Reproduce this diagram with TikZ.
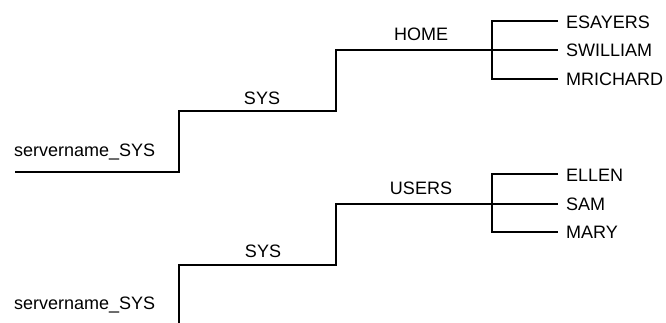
\documentclass[tikz,border=0pt]{standalone}
\usepackage{fontspec}
\setmainfont{Liberation Sans}
\begin{document}
\begin{tikzpicture}[x=1pt,y=-1pt,
  conn/.style={line width=2.2pt, line join=miter},
  lbl/.style={font=\fontsize{18}{20}\selectfont, inner sep=0pt, anchor=base},
  leaf/.style={lbl, anchor=base west}]
\useasboundingbox (0,0) rectangle (666,322);
% ---------- top tree ----------
\coordinate (r1) at (15,172);
\coordinate (a1) at (179,172);
\coordinate (b1) at (179,111);
\coordinate (c1) at (336,111);
\coordinate (d1) at (336,50);
\coordinate (ft1) at (492,21);
\coordinate (fb1) at (492,79);
\coordinate (e1a) at (558,21);
\coordinate (e1b) at (558,50);
\coordinate (e1c) at (558,79);
\draw[conn] (r1) -- (a1) -- (b1) -- (c1) -- (d1) -- (e1b);
\draw[conn] (e1a) -- (ft1) -- (fb1) -- (e1c);
\node[lbl, anchor=base west] (srv1) at (14,156.5) {servername\_SYS};
\node[lbl] (sys1) at (262,104.5) {SYS};
\node[lbl] (home) at (421,40.5) {HOME};
\node[leaf] (esayers) at (566,28) {ESAYERS};
\node[leaf] (swilliam) at (566,56.5) {SWILLIAM};
\node[leaf] (mrichard) at (566,85) {MRICHARD};
% ---------- bottom tree ----------
\coordinate (a2) at (179,323);
\coordinate (b2) at (179,265);
\coordinate (c2) at (336,265);
\coordinate (d2) at (336,204);
\coordinate (ft2) at (492,174);
\coordinate (fb2) at (492,232);
\coordinate (e2a) at (558,174);
\coordinate (e2b) at (558,204);
\coordinate (e2c) at (558,232);
\draw[conn] (a2) -- (b2) -- (c2) -- (d2) -- (e2b);
\draw[conn] (e2a) -- (ft2) -- (fb2) -- (e2c);
\node[lbl, anchor=base west] (srv2) at (14,309.5) {servername\_SYS};
\node[lbl] (sys2) at (263,257.5) {SYS};
\node[lbl] (users) at (421,194.5) {USERS};
\node[leaf] (ellen) at (566,181.5) {ELLEN};
\node[leaf] (sam) at (566,210.5) {SAM};
\node[leaf] (mary) at (566,238.5) {MARY};
\end{tikzpicture}
\end{document}
